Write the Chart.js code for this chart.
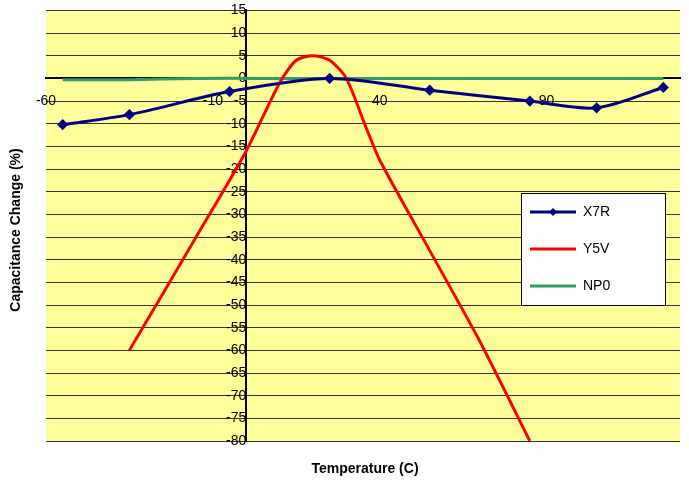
<!DOCTYPE html>
<html lang="en">
<head>
<meta charset="UTF-8">
<script src="https://cdn.jsdelivr.net/npm/chart.js@4.4.1/dist/chart.umd.min.js"></script>
<style>
  html, body { margin: 0; padding: 0; background: #fff; }
  #wrap { width: 689px; height: 486px; }
</style>
</head>
<body>
<div id="wrap"><canvas id="capChart"></canvas></div>
<script>
const x7rTemps = [-55, -35, -5, 25, 55, 85, 105, 125]
const x7rVals = [-10.2, -8, -2.9, 0, -2.6, -5, -6.5, -2]
const y5vTemps = [-35, -15, 0, 10, 15, 20, 25, 30, 36, 40, 55, 70, 85]
const y5vVals = [-60, -35, -16, -1, 4, 5, 4, 0, -11, -18, -38, -58, -80]
const np0Temps = [-55, -35, -15, 5, 25, 55, 85, 105, 125]
const np0Vals = [-0.3, -0.3, 0, 0, 0, 0, 0, 0, 0]
const xTicks = [-60, -10, 40, 90]

const pts = (xs, ys) => xs.map((x, i) => ({x: x, y: ys[i]}))
const font = {family: 'Liberation Sans, Arial, sans-serif', size: 14}

const decor = {
    id: 'decor',
    beforeDraw(chart) {
        const {ctx, chartArea: a} = chart
        ctx.save()
        ctx.fillStyle = '#ffff99'
        ctx.fillRect(a.left, a.top, a.right - a.left, a.bottom - a.top)
        ctx.restore()
    },
    afterDraw(chart) {
        const ctx = chart.ctx
        ctx.save()
        ctx.fillStyle = '#000'
        ctx.font = 'bold 14px Liberation Sans, Arial, sans-serif'
        ctx.textAlign = 'center'
        ctx.textBaseline = 'middle'
        ctx.fillText('Temperature (C)', 365, 469)
        ctx.translate(16, 230)
        ctx.rotate(-Math.PI / 2)
        ctx.fillText('Capacitance Change (%)', 0, 0)
        ctx.restore()

        // legend box
        ctx.save()
        ctx.fillStyle = '#fff'
        ctx.strokeStyle = '#000'
        ctx.lineWidth = 1
        ctx.fillRect(521.5, 193.5, 144, 112)
        ctx.strokeRect(521.5, 193.5, 144, 112)
        ctx.font = '14px Liberation Sans, Arial, sans-serif'
        ctx.textBaseline = 'middle'
        chart.data.datasets.forEach((ds, i) => {
            const y = 212 + i * 37
            ctx.strokeStyle = ds.borderColor
            ctx.lineWidth = 3
            ctx.beginPath()
            ctx.moveTo(530, y)
            ctx.lineTo(576, y)
            ctx.stroke()
            if (ds.pointRadius > 0) {
                ctx.fillStyle = ds.borderColor
                ctx.beginPath()
                ctx.moveTo(553, y - 4); ctx.lineTo(557, y); ctx.lineTo(553, y + 4); ctx.lineTo(549, y)
                ctx.closePath()
                ctx.fill()
            }
            ctx.fillStyle = '#000'
            ctx.fillText(ds.label, 583, y)
        })
        ctx.restore()
    }
}

new Chart(document.getElementById('capChart'), {
    type: 'line',
    data: {
        datasets: [
            {label: 'X7R', data: pts(x7rTemps, x7rVals), borderColor: '#000080', backgroundColor: '#000080',
             borderWidth: 3, pointStyle: 'rectRot', pointRadius: 3.5, tension: 0.3},
            {label: 'Y5V', data: pts(y5vTemps, y5vVals), borderColor: '#ff0000',
             borderWidth: 3, pointRadius: 0, tension: 0.25},
            {label: 'NP0', data: pts(np0Temps, np0Vals), borderColor: '#339966',
             borderWidth: 3, pointRadius: 0, tension: 0.3}
        ]
    },
    options: {
        responsive: true,
        maintainAspectRatio: false,
        animation: false,
        layout: {padding: {left: 46, right: 9, top: 6, bottom: 45}},
        plugins: {legend: {display: false}, tooltip: {enabled: false}},
        scales: {
            x: {
                type: 'linear', min: -60, max: 130,
                position: {y: 0},
                afterBuildTicks: s => { s.ticks = xTicks.map(v => ({value: v})) },
                grid: {display: false, drawTicks: true, tickLength: 6, color: '#000'},
                border: {color: '#000', width: 2},
                ticks: {color: '#000', font: font, maxRotation: 0, padding: 8}
            },
            y: {
                min: -80, max: 15,
                position: {x: 0},
                ticks: {stepSize: 5, color: '#000', font: font, padding: 2},
                grid: {color: '#333', lineWidth: 1, tickLength: 5},
                border: {color: '#000', width: 2}
            }
        }
    },
    plugins: [decor]
})
</script>
</body>
</html>
